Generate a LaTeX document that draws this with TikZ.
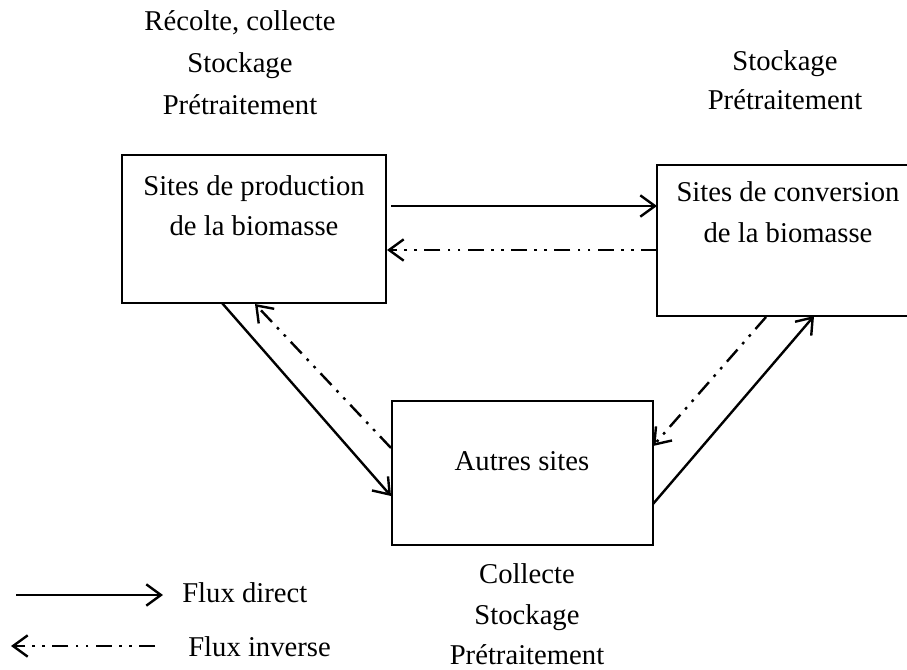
\documentclass[tikz,border=0pt]{standalone}
\usepackage{fontspec}
\setmainfont{Liberation Serif}
\usetikzlibrary{arrows.meta}
\begin{document}
\begin{tikzpicture}[x=0.75pt,y=-0.75pt,
  box/.style={draw, line width=1pt, inner sep=0pt, outer sep=0pt},
  lbl/.style={anchor=base, inner sep=0pt, font=\fontsize{21.5}{26}\selectfont},
  lbll/.style={anchor=base west, inner sep=0pt, font=\fontsize{21.5}{26}\selectfont},
  direct/.style={line width=1.8pt, -{Straight Barb[length=11pt,width=16pt,line width=1.8pt]}},
  inverse/.style={line width=1.8pt, dash pattern=on 12pt off 5.5pt on 2pt off 5.5pt on 2pt off 5.5pt,
     -{Straight Barb[length=11pt,width=16pt,line width=1.8pt]}}]
\useasboundingbox (0,0) rectangle (907,670);
% boxes
\node[box, minimum width=198pt, minimum height=111pt] (prod) at (254,229) {};
\node[box, minimum width=189.75pt, minimum height=113.25pt] (conv) at (783.5,240.5) {};
\node[box, minimum width=195.75pt, minimum height=108pt] (autres) at (522.5,473) {};
% box texts
\node[lbl] (p1) at (254,196) {Sites de production};
\node[lbl] (p2) at (254,236) {de la biomasse};
\node[lbl] (c1) at (788,202) {Sites de conversion};
\node[lbl] (c2) at (788,243) {de la biomasse};
\node[lbl] (a1) at (522,470) {Autres sites};
% outside texts
\node[lbl] (t1) at (240,31) {Récolte, collecte};
\node[lbl] (t2) at (240,73) {Stockage};
\node[lbl] (t3) at (240,115) {Prétraitement};
\node[lbl] (r1) at (785,71) {Stockage};
\node[lbl] (r2) at (785,110) {Prétraitement};
\node[lbl] (b1) at (527,583) {Collecte};
\node[lbl] (b2) at (527,624) {Stockage};
\node[lbl] (b3) at (527,664) {Prétraitement};
% connector end points
\coordinate (pd1) at (391,206);
\coordinate (cd1) at (657,206);
\coordinate (cd2) at (657,250);
\coordinate (pd2) at (387,250);
\coordinate (pb1) at (222,303);
\coordinate (al1) at (391,496);
\coordinate (al2) at (391,448);
\coordinate (pb2) at (255,304);
\coordinate (ar1) at (653,504);
\coordinate (cb1) at (814,316);
\coordinate (cb2) at (766,317);
\coordinate (ar2) at (653,446);
% arrows
\draw[direct] (pd1) -- (cd1);
\draw[inverse] (cd2) -- (pd2);
\draw[direct] (pb1) -- (al1);
\draw[inverse] (al2) -- (pb2);
\draw[direct] (ar1) -- (cb1);
\draw[inverse] (cb2) -- (ar2);
% legend
\coordinate (l1a) at (16,595);
\coordinate (l1b) at (163,595);
\coordinate (l2a) at (155,646);
\coordinate (l2b) at (11,646);
\draw[direct] (l1a) -- (l1b);
\draw[inverse] (l2a) -- (l2b);
\node[lbll] (fd) at (182,602) {Flux direct};
\node[lbll] (fi) at (188,656) {Flux inverse};
\end{tikzpicture}
\end{document}
